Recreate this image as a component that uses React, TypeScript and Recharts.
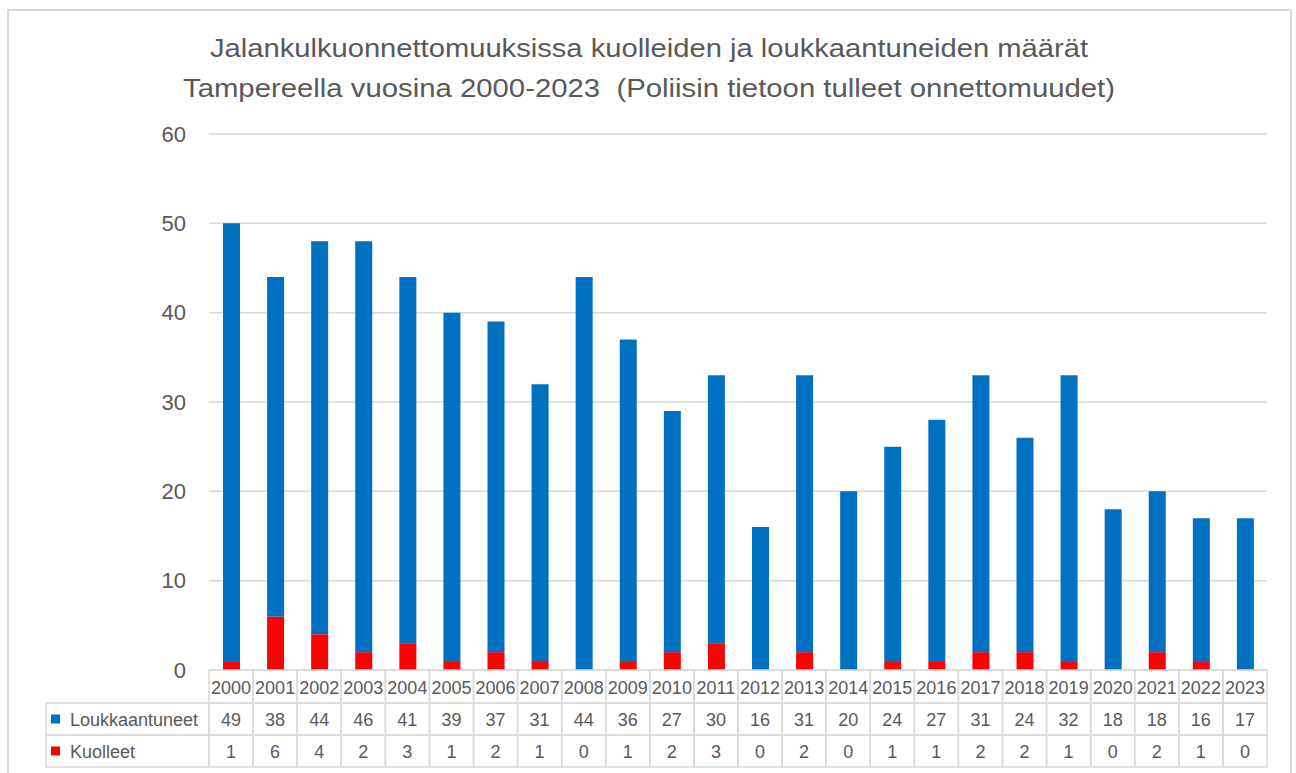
import { BarChart, Bar, XAxis, YAxis, CartesianGrid } from 'recharts'

const years = [
  '2000', '2001', '2002', '2003', '2004', '2005', '2006', '2007', '2008', '2009', '2010', '2011',
  '2012', '2013', '2014', '2015', '2016', '2017', '2018', '2019', '2020', '2021', '2022', '2023',
]
const loukkaantuneet = [49, 38, 44, 46, 41, 39, 37, 31, 44, 36, 27, 30, 16, 31, 20, 24, 27, 31, 24, 32, 18, 18, 16, 17]
const kuolleet = [1, 6, 4, 2, 3, 1, 2, 1, 0, 1, 2, 3, 0, 2, 0, 1, 1, 2, 2, 1, 0, 2, 1, 0]
const yTicks = [0, 10, 20, 30, 40, 50, 60]

const titleLines = [
  'Jalankulkuonnettomuuksissa kuolleiden ja loukkaantuneiden määrät',
  'Tampereella vuosina 2000-2023  (Poliisin tietoon tulleet onnettomuudet)',
]

const data = years.map((year, i) => ({
  year,
  Loukkaantuneet: loukkaantuneet[i],
  Kuolleet: kuolleet[i],
}))

const BLUE = '#0070C0'
const RED = '#FF0000'
const GRID = '#d9d9d9'
const TEXT = '#595959'
const FONT = '"Liberation Sans", Arial, sans-serif'

// layout of the data table under the plot
const PLOT_LEFT = 209
const PLOT_RIGHT = 1267
const CELL_W = (PLOT_RIGHT - PLOT_LEFT) / years.length
const TABLE_TOP = 670
const ROW1 = 703
const ROW2 = 735
const ROW3 = 767
const LEGEND_LEFT = 46

function TableTick(props: any) {
  const { x, payload, index } = props
  const i = index as number
  const left = x - CELL_W / 2
  return (
    <g>
      {i === 0 && (
        <g>
          <rect x={LEGEND_LEFT} y={ROW1} width={PLOT_LEFT - LEGEND_LEFT} height={ROW2 - ROW1} fill="none" stroke={GRID} strokeWidth={1.5} />
          <rect x={LEGEND_LEFT} y={ROW2} width={PLOT_LEFT - LEGEND_LEFT} height={ROW3 - ROW2} fill="none" stroke={GRID} strokeWidth={1.5} />
          <rect x={51} y={(ROW1 + ROW2) / 2 - 4.5} width={9} height={9} fill={BLUE} />
          <rect x={51} y={(ROW2 + ROW3) / 2 - 4.5} width={9} height={9} fill={RED} />
          <text x={70} y={(ROW1 + ROW2) / 2 + 1} dominantBaseline="central" fontSize={18} fill={TEXT} fontFamily={FONT}>
            Loukkaantuneet
          </text>
          <text x={70} y={(ROW2 + ROW3) / 2 + 1} dominantBaseline="central" fontSize={18} fill={TEXT} fontFamily={FONT}>
            Kuolleet
          </text>
        </g>
      )}
      <rect x={left} y={TABLE_TOP} width={CELL_W} height={ROW1 - TABLE_TOP} fill="none" stroke={GRID} strokeWidth={1.5} />
      <rect x={left} y={ROW1} width={CELL_W} height={ROW2 - ROW1} fill="none" stroke={GRID} strokeWidth={1.5} />
      <rect x={left} y={ROW2} width={CELL_W} height={ROW3 - ROW2} fill="none" stroke={GRID} strokeWidth={1.5} />
      <text x={x} y={(TABLE_TOP + ROW1) / 2 + 1} textAnchor="middle" dominantBaseline="central" fontSize={18} fill={TEXT} fontFamily={FONT}>
        {payload.value}
      </text>
      <text x={x} y={(ROW1 + ROW2) / 2 + 1} textAnchor="middle" dominantBaseline="central" fontSize={18} fill={TEXT} fontFamily={FONT}>
        {loukkaantuneet[i]}
      </text>
      <text x={x} y={(ROW2 + ROW3) / 2 + 1} textAnchor="middle" dominantBaseline="central" fontSize={18} fill={TEXT} fontFamily={FONT}>
        {kuolleet[i]}
      </text>
    </g>
  )
}

export default function App() {
  return (
    <div style={{ position: 'absolute', left: 0, top: 0, width: 1296, height: 773, overflow: 'hidden', background: '#fff' }}>
      <div
        style={{
          position: 'absolute',
          left: 7,
          top: 9,
          width: 1285,
          height: 800,
          border: `2px solid ${GRID}`,
          boxSizing: 'border-box',
        }}
      />
      <svg width={1296} height={120} style={{ position: 'absolute', left: 0, top: 0 }}>
        {titleLines.map((line, i) => (
          <text
            key={i}
            x={649}
            y={48 + i * 40}
            textAnchor="middle"
            dominantBaseline="central"
            fontSize={26}
            fill={TEXT}
            fontFamily={FONT}
            textLength={i === 0 ? 878 : 932}
            lengthAdjust="spacingAndGlyphs"
            style={{ whiteSpace: 'pre' }}
          >
            {line}
          </text>
        ))}
      </svg>
      <div style={{ position: 'absolute', left: 0, top: 0 }}>
        <BarChart
          width={1296}
          height={773}
          data={data}
          margin={{ top: 134, right: 29, left: 149, bottom: 3 }}
          barSize={17}
        >
          <CartesianGrid vertical={false} stroke={GRID} strokeWidth={1.5} />
          <XAxis
            dataKey="year"
            height={100}
            axisLine={false}
            tickLine={false}
            interval={0}
            tick={<TableTick />}
          />
          <YAxis
            width={60}
            domain={[0, 60]}
            ticks={yTicks}
            axisLine={false}
            tickLine={false}
            tickMargin={17}
            tick={{ fontSize: 22, fill: TEXT, fontFamily: FONT }}
          />
          <Bar dataKey="Kuolleet" stackId="a" fill={RED} isAnimationActive={false} />
          <Bar dataKey="Loukkaantuneet" stackId="a" fill={BLUE} isAnimationActive={false} />
        </BarChart>
      </div>
    </div>
  )
}
